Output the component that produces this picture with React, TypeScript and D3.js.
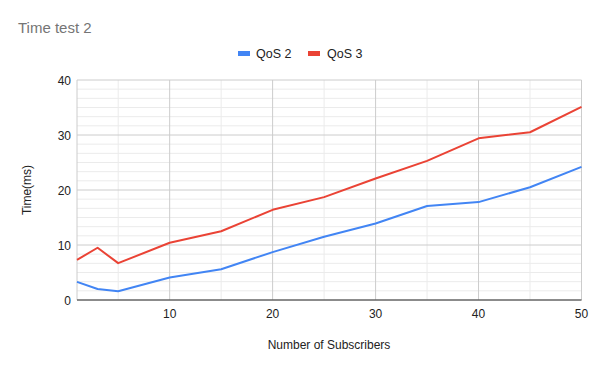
import React from 'react';
import * as d3 from 'd3';

const SUBSCRIBERS = [1, 3, 5, 10, 15, 20, 25, 30, 35, 40, 45, 50];
const QOS2 = [3.3, 2.0, 1.6, 4.1, 5.6, 8.7, 11.5, 13.9, 17.1, 17.8, 20.5, 24.2];
const QOS3 = [7.3, 9.5, 6.7, 10.4, 12.5, 16.4, 18.7, 22.1, 25.3, 29.4, 30.5, 35.1];
const X_TICKS = [10, 20, 30, 40, 50];
const X_MINOR = [5, 15, 25, 35, 45];
const Y_TICKS = [0, 10, 20, 30, 40];

const SERIES = [
  { name: 'QoS 2', values: QOS2, color: '#4285f4' },
  { name: 'QoS 3', values: QOS3, color: '#ea4335' },
];

const W = 600;
const H = 371;
const font = 'Arial, "Liberation Sans", sans-serif';

export default function App() {
  const left = 77;
  const right = 581.5;
  const top = 80;
  const bottom = 300;

  const x = d3.scaleLinear().domain([1, 50]).range([left, right]);
  const y = d3.scaleLinear().domain([0, 40]).range([bottom, top]);

  // google charts draws 5 minor lines between each major one
  const yMinor: number[] = [];
  Y_TICKS.slice(0, -1).forEach(t => {
    for (let k = 1; k < 6; k++) yMinor.push(t + (10 * k) / 6);
  });

  const line = d3.line<[number, number]>()
    .x(d => x(d[0]))
    .y(d => y(d[1]));

  return (
    <svg width={W} height={H} style={{ position: 'absolute', left: 0, top: 0 }} fontFamily={font}>
      <rect width={W} height={H} fill="#fff" />
      <text x={18} y={33} fontSize={15} fill="#757575">Time test 2</text>

      {/* legend */}
      <g fontSize={12.5} fill="#222">
        <rect x={238} y={51} width={12} height={5} fill={SERIES[0].color} />
        <text x={256} y={58}>{SERIES[0].name}</text>
        <rect x={308} y={51} width={12} height={5} fill={SERIES[1].color} />
        <text x={327} y={58}>{SERIES[1].name}</text>
      </g>

      {/* grid */}
      {yMinor.map(v => (
        <line key={'ym' + v} x1={left} x2={right} y1={y(v)} y2={y(v)} stroke="#ebebeb" />
      ))}
      {X_MINOR.map(v => (
        <line key={'xm' + v} x1={x(v)} x2={x(v)} y1={top} y2={bottom} stroke="#ebebeb" />
      ))}
      {Y_TICKS.map(v => (
        <line key={'y' + v} x1={left} x2={right} y1={y(v)} y2={y(v)} stroke="#cccccc" />
      ))}
      {X_TICKS.map(v => (
        <line key={'x' + v} x1={x(v)} x2={x(v)} y1={top} y2={bottom} stroke="#cccccc" />
      ))}
      <line x1={left} x2={left} y1={top} y2={bottom} stroke="#cccccc" />
      <line x1={left} x2={right} y1={y(0)} y2={y(0)} stroke="#333" />

      {/* ticks */}
      <g fontSize={12} fill="#222">
        {Y_TICKS.map(v => (
          <text key={'yl' + v} x={71} y={y(v) + 4.5} textAnchor="end">{v}</text>
        ))}
        {X_TICKS.map(v => (
          <text key={'xl' + v} x={x(v)} y={318} textAnchor="middle">{v}</text>
        ))}
      </g>

      {/* axis titles */}
      <text x={329} y={349} fontSize={12} fill="#222" textAnchor="middle">Number of Subscribers</text>
      <text transform={`translate(31, ${(top + bottom) / 2}) rotate(-90)`} fontSize={12} fill="#222" textAnchor="middle">Time(ms)</text>

      {/* series */}
      {SERIES.map(s => (
        <path
          key={s.name}
          d={line(SUBSCRIBERS.map((v, i) => [v, s.values[i]] as [number, number])) || ''}
          fill="none"
          stroke={s.color}
          strokeWidth={2}
          strokeLinejoin="round"
        />
      ))}
    </svg>
  );
}
